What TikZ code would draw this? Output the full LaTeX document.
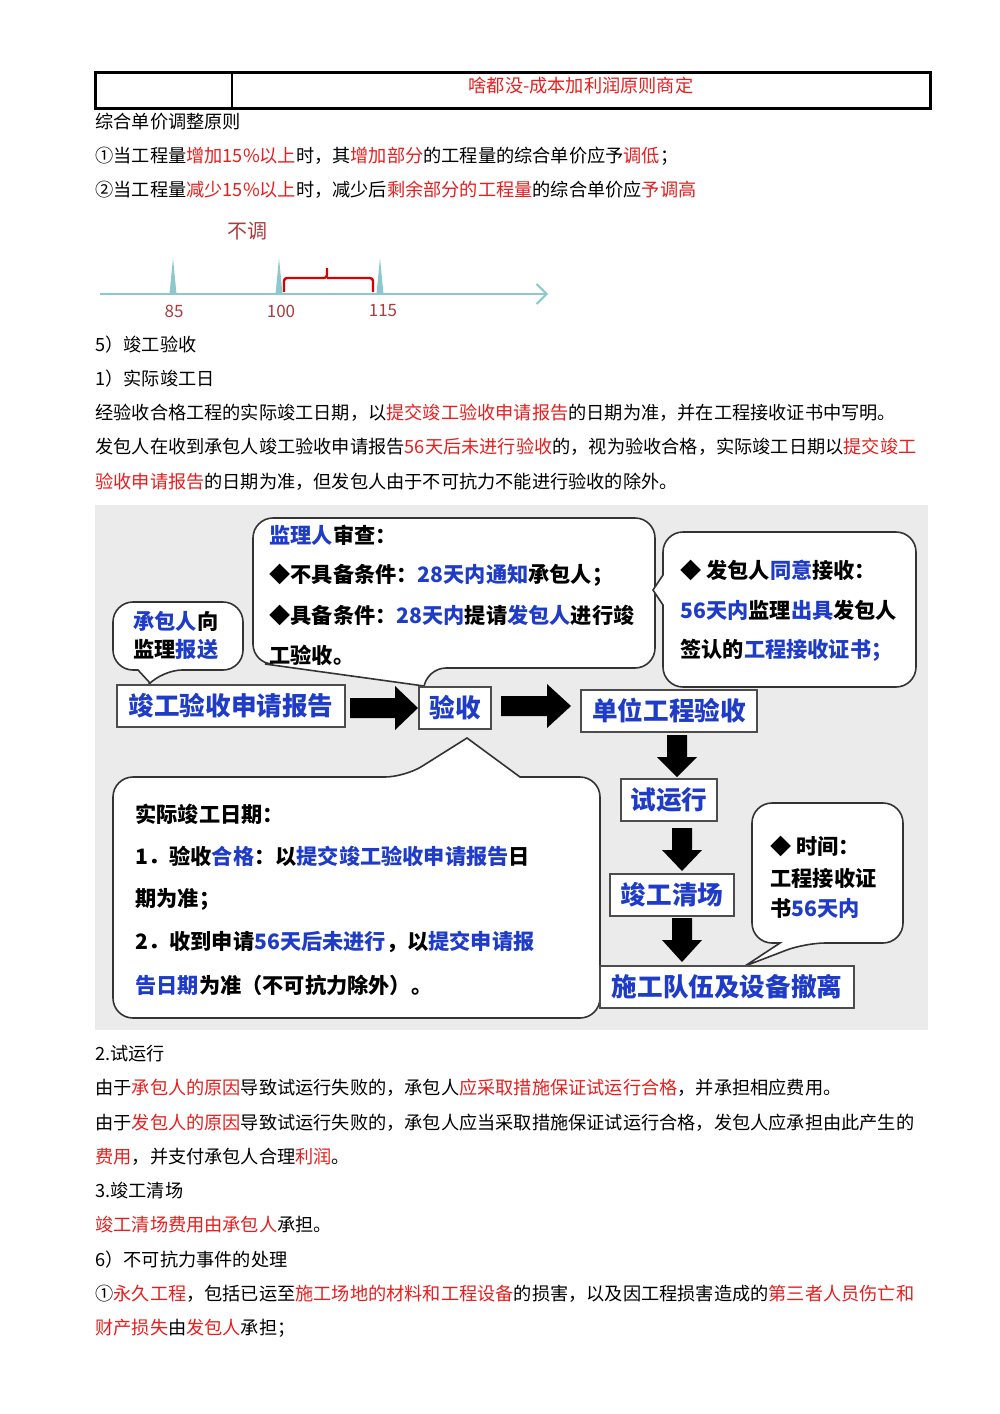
\documentclass[tikz,border=0pt]{standalone}
\usepackage{fontspec}
\setmainfont{Noto Sans CJK SC}
\usetikzlibrary{arrows.meta}
\definecolor{rd}{RGB}{230,30,30}
\definecolor{bl}{RGB}{30,60,200}
\definecolor{tl}{RGB}{140,200,205}
\definecolor{br}{RGB}{170,60,60}
\newcommand{\R}[1]{\textcolor{rd}{#1}}
\newcommand{\B}[1]{\textcolor{bl}{#1}}
\tikzset{ln/.style={anchor=west,inner sep=0,font=\fontsize{9.1}{10}\selectfont},
 bx/.style={draw=black!70,fill=white,thick,inner sep=0pt,font=\fontsize{12.8}{14}\selectfont\bfseries,text=bl,minimum height=21pt},
 co/.style={draw=black!80,fill=white,thick,rounded corners=10pt},
 ct/.style={anchor=west,inner sep=0,font=\fontsize{10.6}{12}\selectfont\bfseries},
 bigar/.style={draw=none,fill=black}}
\begin{document}
\begin{tikzpicture}[x=0.5pt,y=-0.5pt]
\useasboundingbox (0,0) rectangle (1000,1414);
% table
\draw[line width=1.5pt] (95,72) rectangle (930,108);
\draw[line width=1pt] (232,72) -- (232,108);
\node[ln,anchor=center,text=rd] (tt) at (581,86) {啥都没-成本加利润原则商定};
\node[ln] (l1) at (95,122) {综合单价调整原则};
\node[ln] (l2) at (95,156) {①当工程量\R{增加15\%以上}时，其\R{增加部分}的工程量的综合单价应予\R{调低}；};
\node[ln] (l3) at (95,190) {②当工程量\R{减少15\%以上}时，减少后\R{剩余部分的工程量}的综合单价应\R{予调高}};
% number line
\draw[tl,line width=1pt,-{Straight Barb[length=5pt]}] (100,294) -- (548,294);
\foreach \x in {173,279,380}{\fill[tl] (\x-3.5,294) -- (\x,258) -- (\x+3.5,294) -- cycle;}
\node[font=\fontsize{8.5}{10}\selectfont,text=br] (n85) at (174,311) {85};
\node[font=\fontsize{8.5}{10}\selectfont,text=br] (n100) at (281,311) {100};
\node[font=\fontsize{8.5}{10}\selectfont,text=br] (n115) at (383,311) {115};
\node[font=\fontsize{10}{12}\selectfont,text=br] (bt) at (247,231) {不调};
\draw[red!85!black,line width=1.2pt,rounded corners=1.5pt] (284,292) -- (284,278) -- (327,278) -- (327,268) (327,278) -- (373,278) -- (373,292);
\node[ln] (l4) at (95,345) {5）竣工验收};
\node[ln] (l5) at (95,379) {1）实际竣工日};
\node[ln] (l6) at (95,413) {经验收合格工程的实际竣工日期，以\R{提交竣工验收申请报告}的日期为准，并在工程接收证书中写明。};
\node[ln] (l7) at (95,447) {发包人在收到承包人竣工验收申请报告\R{56天后未进行验收}的，视为验收合格，实际竣工日期以\R{提交竣工}};
\node[ln] (l8) at (95,482) {\R{验收申请报告}的日期为准，但发包人由于不可抗力不能进行验收的除外。};
% diagram
\fill[black!8] (95,505) rectangle (928,1030);
% callouts
\draw[co] (150,683) [sharp corners] -- (138,670) [rounded corners=10pt] -- (113,670) -- (113,602) -- (243,602) -- (243,670) -- (162,670) [sharp corners] -- cycle;
\node[ct] (c1) at (133,621) {\B{承包人}向};
\node[ct] (c1b) at (133,650) {监理\B{报送}};
\draw[co] (424,686) [sharp corners] -- (265,664) [rounded corners=10pt] -- (253,664) -- (253,518) -- (655,518) -- (655,668) -- (426,668) [sharp corners] -- cycle;
\node[ct] (c2a) at (269,535) {\B{监理人}审查：};
\node[ct] (c2b) at (269,575) {◆不具备条件：\B{28天内通知}承包人；};
\node[ct] (c2c) at (269,615) {◆具备条件：\B{28天内}提请\B{发包人}进行竣};
\node[ct] (c2d) at (269,655) {工验收。};
\draw[co] (653,590) [sharp corners] -- (663,575) [rounded corners=10pt] -- (663,532) -- (916,532) -- (916,687) -- (663,687) [sharp corners] -- (663,605) -- cycle;
\node[ct] (c3a) at (680,570) {◆ 发包人\B{同意}接收：};
\node[ct] (c3b) at (680,610) {\B{56天内}监理\B{出具}发包人};
\node[ct] (c3c) at (680,650) {签认的\B{工程接收证书；}};
\draw[co] (467,738) [sharp corners] -- (520,777) [rounded corners=10pt] -- (600,777) -- (600,1018) -- (113,1018) -- (113,777) -- (405,777) [sharp corners] -- cycle;
\node[ct] (c4a) at (135,814) {实际竣工日期：};
\node[ct] (c4b) at (135,856) {1．验收\B{合格}：以\B{提交竣工验收申请报告}日};
\node[ct] (c4c) at (135,899) {期为准；};
\node[ct] (c4d) at (135,942) {2．收到申请\B{56天后未进行}，以\B{提交申请报}};
\node[ct] (c4e) at (135,985) {\B{告日期}为准（不可抗力除外）。};
\draw[co] (745,966) [sharp corners] -- (780,943) [rounded corners=10pt] -- (752,943) -- (752,803) -- (903,803) -- (903,943) -- (805,943) [sharp corners] -- cycle;
\node[ct] (c5a) at (770,846) {◆ 时间：};
\node[ct] (c5b) at (770,878) {工程接收证};
\node[ct] (c5c) at (770,908) {书\B{56天内}};
% boxes
\node[bx,minimum width=114pt] (b1) at (231,706) {竣工验收申请报告};
\node[bx,minimum width=36pt] (b2) at (455,708) {验收};
\node[bx,minimum width=88pt] (b3) at (669,711) {单位工程验收};
\node[bx,minimum width=48pt] (b4) at (669,800) {试运行};
\node[bx,minimum width=62pt] (b5) at (672,895) {竣工清场};
\node[bx,minimum width=127pt] (b6) at (727,987) {施工队伍及设备撤离};
% block arrows
\fill[bigar] (350,698) -- (395,698) -- (395,686) -- (418,708) -- (395,730) -- (395,718) -- (350,718) -- cycle;
\fill[bigar] (501,696) -- (547,696) -- (547,684) -- (571,706) -- (547,728) -- (547,716) -- (501,716) -- cycle;
\fill[bigar] (667,735) -- (687,735) -- (687,757) -- (697,757) -- (677,777) -- (657,757) -- (667,757) -- cycle;
\fill[bigar] (672,828) -- (692,828) -- (692,850) -- (702,850) -- (682,871) -- (662,850) -- (672,850) -- cycle;
\fill[bigar] (672,918) -- (692,918) -- (692,940) -- (702,940) -- (682,962) -- (662,940) -- (672,940) -- cycle;
% lower text
\node[ln] (m1) at (95,1054) {2.试运行};
\node[ln] (m2) at (95,1088) {由于\R{承包人的原因}导致试运行失败的，承包人\R{应采取措施保证试运行合格}，并承担相应费用。};
\node[ln] (m3) at (95,1123) {由于\R{发包人的原因}导致试运行失败的，承包人应当采取措施保证试运行合格，发包人应承担由此产生的};
\node[ln] (m4) at (95,1157) {\R{费用}，并支付承包人合理\R{利润}。};
\node[ln] (m5) at (95,1191) {3.竣工清场};
\node[ln] (m6) at (95,1225) {\R{竣工清场费用由承包人}承担。};
\node[ln] (m7) at (95,1260) {6）不可抗力事件的处理};
\node[ln] (m8) at (95,1294) {①\R{永久工程}，包括已运至\R{施工场地的材料和工程设备}的损害，以及因工程损害造成的\R{第三者人员伤亡和}};
\node[ln] (m9) at (95,1328) {\R{财产损失}由\R{发包人}承担；};
\end{tikzpicture}
\end{document}
